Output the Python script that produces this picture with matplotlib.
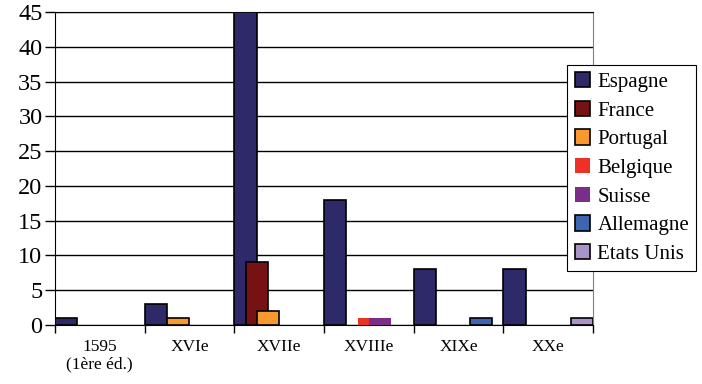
import matplotlib.pyplot as plt
import numpy as np

# data
categories = ['1595\n(1ère éd.)', 'XVIe', 'XVIIe', 'XVIIIe', 'XIXe', 'XXe']
series_names = ['Espagne', 'France', 'Portugal', 'Belgique', 'Suisse',
                'Allemagne', 'Etats Unis']
espagne = [1, 3, 45, 18, 8, 8]
france = [0, 0, 9, 0, 0, 0]
portugal = [0, 1, 2, 0, 0, 0]
belgique = [0, 0, 0, 1, 0, 0]
suisse = [0, 0, 0, 1, 0, 0]
allemagne = [0, 0, 0, 0, 1, 0]
etats_unis = [0, 0, 0, 0, 0, 1]

series = [espagne, france, portugal, belgique, suisse, allemagne, etats_unis]
colors = ['#2E2A69', '#771214', '#F7992F', '#EE3127', '#7B2D8A',
          '#3E65B0', '#A994C8']
edges = ['black', 'black', 'black', 'none', 'none', 'black', 'black']

plt.rcParams['font.family'] = ['Liberation Serif', 'DejaVu Serif']

fig = plt.figure(figsize=(7.02, 3.84), dpi=100)
ax = fig.add_axes([0.0783, 0.1536, 0.8447 - 0.0783, 0.9688 - 0.1536])

x = np.arange(len(categories))
step = 1 / 8
width = 2 / 8
handles = []
for i, (vals, name) in enumerate(zip(series, series_names)):
    v = np.array(vals, dtype=float)
    h = ax.bar(x + i * step, np.where(v > 0, v, np.nan), width=width,
               align='edge', color=colors[i], edgecolor=edges[i],
               linewidth=1.2, label=name, zorder=3 + i)
    handles.append(h)

ax.set_xlim(0, len(categories))
ax.set_ylim(0, 45)
ax.set_yticks(np.arange(0, 46, 5))
ax.yaxis.grid(True, color='black', linewidth=1)
ax.set_axisbelow(True)

ax.set_xticks(np.arange(0, len(categories) + 1))
ax.set_xticklabels([])
ax.set_xticks(x + 0.5, minor=True)
ax.set_xticklabels(categories, minor=True, fontsize=12.5, linespacing=1.1)
ax.tick_params(axis='x', which='minor', length=0, pad=10)
ax.tick_params(axis='x', which='major', length=6, width=1, color='black')
ax.tick_params(axis='y', length=7, width=1, labelsize=17.5, pad=2)

for s in ['left', 'bottom', 'top']:
    ax.spines[s].set_color('black')
ax.spines['right'].set_color('#808080')

leg = fig.legend(handles=handles, loc='upper left',
                 bbox_to_anchor=(0.808, 0.831), fontsize=15,
                 frameon=True, fancybox=False, edgecolor='black',
                 framealpha=1, handlelength=0.75, handleheight=0.75,
                 handletextpad=0.35, labelspacing=0.42, borderpad=0.35,
                 borderaxespad=0)
leg.get_frame().set_linewidth(0.8)

fig.savefig('out.png', dpi=100)
